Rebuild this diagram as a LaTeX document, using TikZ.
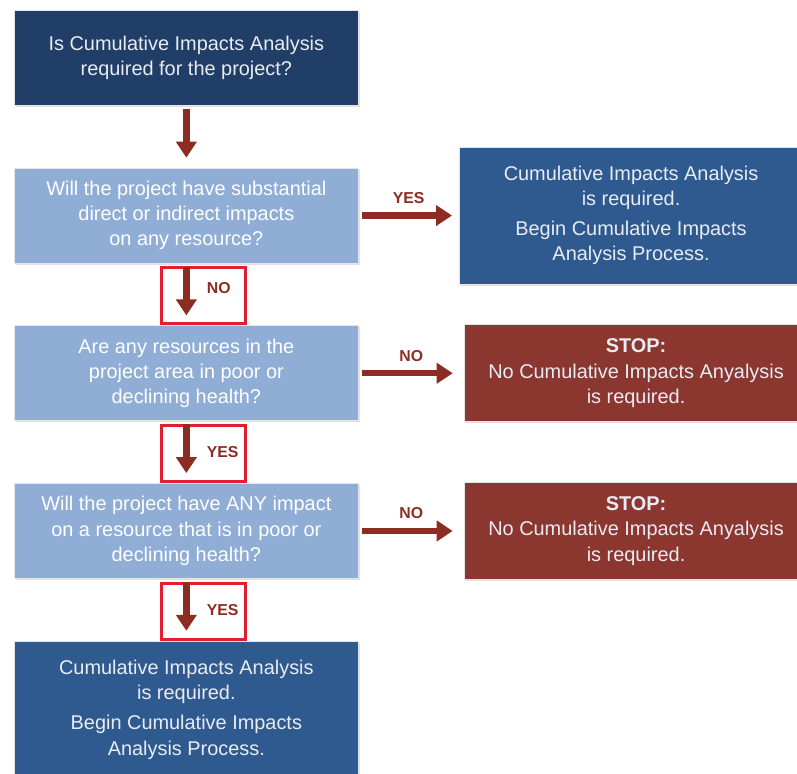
\documentclass[tikz,border=0pt]{standalone}
\usepackage{fontspec}
\setmainfont{Liberation Sans}
\usepackage{xcolor}
\usetikzlibrary{positioning,arrows.meta,shadows}

\definecolor{navy}{RGB}{33,62,104}
\definecolor{paleblue}{RGB}{143,173,213}
\definecolor{midblue}{RGB}{47,90,143}
\definecolor{stopred}{RGB}{140,54,48}
\definecolor{arrowred}{RGB}{140,44,34}
\definecolor{framered}{RGB}{226,30,48}
\definecolor{boxtext}{RGB}{232,236,242}

\begin{document}
\begin{tikzpicture}[
    node distance=18.6mm and 30mm,
    box/.style={draw=black!10, line width=0.6pt, minimum width=103.2mm, minimum height=28.5mm, align=center, text=boxtext, font=\fontsize{17}{21.5}\selectfont, drop shadow={shadow xshift=0.5mm, shadow yshift=-0.5mm, opacity=0.25}},
    question/.style={box, fill=paleblue, text=white},
    result/.style={box, fill=midblue, minimum height=41.1mm},
    stopbox/.style={box, fill=stopred, minimum height=29.1mm},
    flow/.style={draw=arrowred, line width=1.9mm, -{Triangle[width=6mm, length=4.8mm]}, shorten <=1mm},
    answer/.style={font=\fontsize{13.5}{15}\selectfont\bfseries, text=arrowred, inner sep=0pt},
    frame/.style={draw=framered, line width=0.9mm, minimum width=25.2mm, minimum height=16.8mm}
]
\useasboundingbox (0,0) rectangle (239.1mm,-232.2mm);

% main column
\node[box, fill=navy, anchor=north west] (q1) at (4.2mm,-3mm) {Is Cumulative Impacts Analysis\\required for the project?};
\node[question, below=of q1] (q2) {Will the project have substantial\\direct or indirect impacts\\on any resource?};
\node[question, below=of q2] (q3) {Are any resources in the\\project area in poor or\\declining health?};
\node[question, below=of q3] (q4) {Will the project have ANY impact\\on a resource that is in poor or\\declining health?};
\node[result, below=of q4] (q5) {Cumulative Impacts Analysis\\is required.\\[1.5mm]Begin Cumulative Impacts\\Analysis Process.};

% outcomes on the right
\node[result, right=of q2] (r2) {Cumulative Impacts Analysis\\is required.\\[1.5mm]Begin Cumulative Impacts\\Analysis Process.};
\node[stopbox, right=31.5mm of q3] (s3) {\textbf{STOP:}\\No Cumulative Impacts Anyalysis\\is required.};
\node[stopbox, right=31.5mm of q4] (s4) {\textbf{STOP:}\\No Cumulative Impacts Anyalysis\\is required.};

% red frames round the downward answers
\node[frame, below=0.9mm of q2, xshift=5.1mm] (f2) {};
\node[frame, below=0.9mm of q3, xshift=5.1mm] (f3) {};
\node[frame, below=0.9mm of q4, xshift=5.1mm] (f4) {};

\draw[flow, shorten >=3mm] (q1) -- (q2);
\draw[flow, shorten >=3mm] (q2) -- node[answer, right=5.2mm, yshift=1.8mm] (n2) {NO} (q3);
\draw[flow, shorten >=3mm] (q3) -- node[answer, right=5.2mm] (n3) {YES} (q4);
\draw[flow, shorten >=3mm] (q4) -- node[answer, right=5.2mm] (n4) {YES} (q5);

\draw[flow, shorten >=2mm] (q2) -- node[answer, above=2.6mm] (h2) {YES} (r2);
\draw[flow, shorten >=3.3mm] (q3) -- node[answer, above=2.6mm] (h3) {NO} (s3);
\draw[flow, shorten >=3.3mm] (q4) -- node[answer, above=2.6mm] (h4) {NO} (s4);

\end{tikzpicture}
\end{document}
